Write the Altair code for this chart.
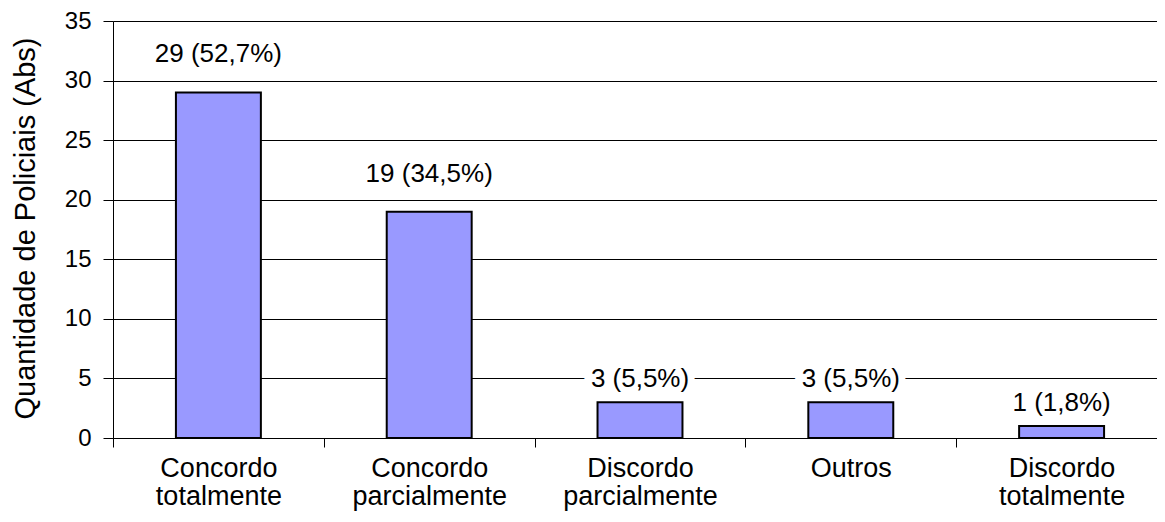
import altair as alt
import pandas as pd

categories = ["Concordo totalmente", "Concordo parcialmente", "Discordo parcialmente", "Outros", "Discordo totalmente"]
values = [29, 19, 3, 3, 1]
labels = ["29 (52,7%)", "19 (34,5%)", "3 (5,5%)", "3 (5,5%)", "1 (1,8%)"]
y_ticks = [0, 5, 10, 15, 20, 25, 30, 35]

df = pd.DataFrame({"cat": categories, "val": values, "lab": labels})

FONT = "Liberation Sans"

x_enc = alt.X(
    "cat:N",
    sort=categories,
    title=None,
    scale=alt.Scale(paddingInner=0, paddingOuter=0),
    axis=alt.Axis(
        labelExpr="split(datum.label, ' ')",
        labelAngle=0,
        labelFont=FONT,
        labelFontSize=27,
        labelColor="black",
        labelLineHeight=28,
        labelPadding=8,
        tickBand="extent",
        tickSize=9,
        tickColor="black",
        domainColor="black",
        domainWidth=1,
        grid=False,
    ),
)

y_enc = alt.Y(
    "val:Q",
    title="Quantidade de Policiais (Abs)",
    scale=alt.Scale(domain=[0, 35], nice=False),
    axis=alt.Axis(
        values=y_ticks,
        labelFont=FONT,
        labelFontSize=24,
        labelColor="black",
        labelPadding=12,
        tickSize=10,
        tickColor="black",
        domainColor="black",
        grid=True,
        gridColor="black",
        gridOpacity=1,
        gridWidth=1,
        titleFont=FONT,
        titleFontSize=29,
        titleFontWeight="normal",
        titleColor="black",
        titleAngle=-90,
        titleAlign="center",
        titleBaseline="middle",
        titleX=-88,
        titleY=207,
    ),
)

base = alt.Chart(df)

bars = base.mark_bar(
    color="#9999FF", stroke="black", strokeWidth=2, width=alt.RelativeBandSize(0.403)
).encode(x=x_enc, y=y_enc)

txt_common = dict(font=FONT, fontSize=26, baseline="alphabetic", align="center")

high = base.transform_filter("datum.val >= 10")
low = base.transform_filter("datum.val < 10")

halo_hi = high.mark_text(dy=-30, color="white", stroke="white", strokeWidth=14, **txt_common).encode(
    x=alt.X("cat:N", sort=categories), y="val:Q", text="lab:N")
text_hi = high.mark_text(dy=-30, color="black", **txt_common).encode(
    x=alt.X("cat:N", sort=categories), y="val:Q", text="lab:N")
halo_lo = low.mark_text(dy=-15, color="white", stroke="white", strokeWidth=14, **txt_common).encode(
    x=alt.X("cat:N", sort=categories), y="val:Q", text="lab:N")
text_lo = low.mark_text(dy=-15, color="black", **txt_common).encode(
    x=alt.X("cat:N", sort=categories), y="val:Q", text="lab:N")

chart = alt.layer(bars, halo_hi, halo_lo, text_hi, text_lo).properties(
    width=1054,
    height=417,
    autosize=alt.AutoSizeParams(type="none"),
    padding={"left": 105, "top": 13, "right": -10, "bottom": 76},
).configure_view(stroke=None).configure(background="white")

chart.save("out.html", embed_options={"renderer": "svg", "actions": False})
